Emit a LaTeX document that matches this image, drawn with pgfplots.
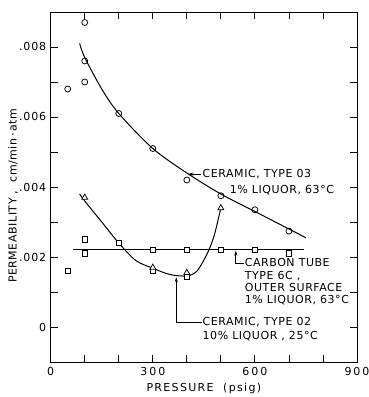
\documentclass[border=0pt]{standalone}
\usepackage{fontspec}
\setmainfont{DejaVu Sans}[LetterSpace=5]
\usepackage{pgfplots}
\pgfplotsset{compat=1.18}
\usetikzlibrary{arrows.meta}
\begin{document}
\begin{tikzpicture}[font=\fontsize{11}{12.5}\selectfont]
\useasboundingbox (-50.7pt,-35pt) rectangle (318.3pt,362pt);
\begin{axis}[
  at={(0pt,0pt)}, anchor=south west,
  scale only axis, width=306.3pt, height=350pt,
  xmin=0, xmax=900, ymin=-0.001, ymax=0.009,
  xtick={0,300,600,900}, xticklabels={0,300,600,900},
  minor xtick={100,200,400,500,700,800},
  ytick={0,0.002,0.004,0.006,0.008}, yticklabels={0,.002,.004,.006,.008},
  minor ytick={0.001,0.003,0.005,0.007},
  scaled y ticks=false,
  /pgf/number format/assume math mode=true,
  tick align=inside, major tick length=7pt, minor tick length=7pt,
  tick style={black, line width=0.8pt},
  axis line style={line width=0.9pt},
  xticklabel style={yshift=-2pt, font=\fontsize{11}{12.5}\selectfont\addfontfeatures{LetterSpace=18}},
  yticklabel style={xshift=-1pt, font=\fontsize{11}{12.5}\selectfont\addfontfeatures{LetterSpace=8}},
  xlabel={PRESSURE\ \ (psig)},
  ylabel={PERMEABILITY , \ cm/min\,·\,atm},
  x label style={at={(axis description cs:0.5,-0.075)}, anchor=center, font=\fontsize{11}{12.5}\selectfont\addfontfeatures{LetterSpace=12}},
  y label style={at={(axis description cs:-0.123,0.475)}, anchor=center},
  clip=false,
]
% Ceramic type 03 curve
\addplot[black, line width=1pt, smooth] coordinates {
 (85,0.0081) (100,0.0077) (150,0.0068) (200,0.0061) (300,0.0051)
 (400,0.0044) (500,0.0038) (600,0.0033) (700,0.0028) (750,0.00255)};
% Ceramic type 02 curve
\addplot[black, line width=1pt, smooth] coordinates {
 (85,0.0038) (100,0.0036) (150,0.0030) (200,0.0024) (250,0.0019) (300,0.00168)
 (350,0.0015) (400,0.00146) (430,0.0016) (460,0.0021) (480,0.0026) (500,0.0034)};
% Carbon tube line
\addplot[black, line width=1pt] coordinates {(65,0.0022) (745,0.0022)};
% circles
\addplot[only marks, mark=o, mark size=3pt, mark options={fill=white, line width=0.75pt}] coordinates {
 (50,0.0068) (100,0.0087) (100,0.0076) (100,0.0070) (200,0.0061) (300,0.0051)
 (400,0.0042) (500,0.00375) (600,0.00335) (700,0.00274)};
% squares
\addplot[only marks, mark=square*, mark size=2.7pt, mark options={fill=white, draw=black, line width=0.75pt}] coordinates {
 (50,0.0016) (100,0.0025) (100,0.0021) (200,0.0024) (300,0.0022) (300,0.0016)
 (400,0.0022) (400,0.00145) (500,0.0022) (600,0.0022) (700,0.0021)};
% triangles
\addplot[only marks, mark=triangle*, mark size=3.4pt, mark options={fill=white, draw=black, line width=0.75pt}] coordinates {
 (100,0.0037) (300,0.0017) (400,0.00155) (500,0.0034)};
% annotations
\draw[line width=0.8pt, -{Stealth[length=5pt,width=3.2pt]}] (axis cs:443,0.00437) -- (axis cs:405,0.00437);
\node[anchor=west, inner sep=0pt] at (axis cs:446,0.00437) {CERAMIC, TYPE 03};
\node[anchor=west, inner sep=0pt] at (axis cs:526,0.0039) {1\% LIQUOR, 63°C};
\draw[line width=0.8pt, -{Stealth[length=5pt,width=3.2pt]}] (axis cs:567,0.00183) -- (axis cs:544,0.00183) -- (axis cs:544,0.00218);
\node[anchor=west, inner sep=0pt] at (axis cs:570,0.00183) {CARBON TUBE};
\node[anchor=west, inner sep=0pt] at (axis cs:570,0.00145) {TYPE 6C ,};
\node[anchor=west, inner sep=0pt] at (axis cs:570,0.00112) {OUTER SURFACE};
\node[anchor=west, inner sep=0pt] at (axis cs:570,0.00077) {1\% LIQUOR, 63°C};
\draw[line width=0.8pt, -{Stealth[length=5pt,width=3.2pt]}] (axis cs:444,0.00014) -- (axis cs:369,0.00014) -- (axis cs:369,0.00142);
\node[anchor=west, inner sep=0pt] at (axis cs:446,0.00014) {CERAMIC, TYPE 02};
\node[anchor=west, inner sep=0pt] at (axis cs:446,-0.00026) {10\% LIQUOR , 25°C};
\end{axis}
\end{tikzpicture}
\end{document}
